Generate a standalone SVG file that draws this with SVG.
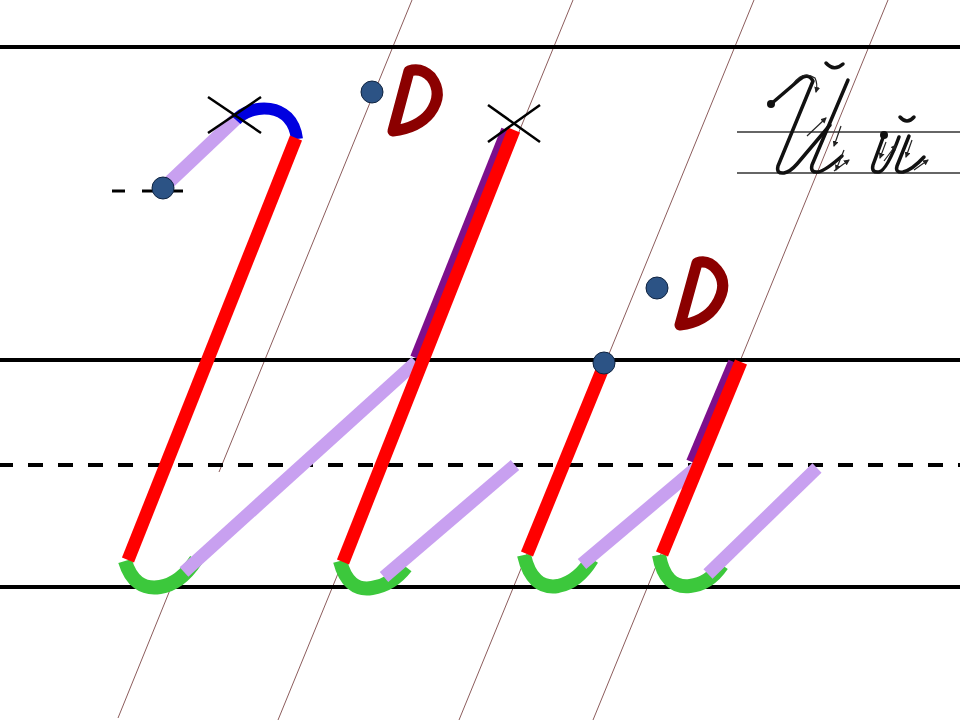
<svg xmlns="http://www.w3.org/2000/svg" width="960" height="720" viewBox="0 0 960 720">
<defs>
<style>
.guide{stroke:#8c5c5c;stroke-width:1;fill:none}
.rule{stroke:#000;stroke-width:4;fill:none}
.dash{stroke:#000;stroke-width:4;stroke-dasharray:15 15;stroke-dashoffset:2;fill:none}
.red{stroke:#ff0000;stroke-width:13;fill:none}
.purple{stroke:#7d0f8c;stroke-width:12;fill:none}
.lav{stroke:#c8a0f0;stroke-width:13;fill:none}
.green{stroke:#3cc83c;stroke-width:14;fill:none}
.blue{stroke:#0000e0;stroke-width:12;fill:none}
.dot{fill:#2c5385;stroke:#0f2340;stroke-width:1}
.dee{stroke:#8b0000;stroke-width:11;fill:none;stroke-linejoin:round}
.cross{stroke:#000;stroke-width:2.5}
.hw{stroke:#111;stroke-width:3.5;fill:none;stroke-linecap:round;stroke-linejoin:round}
.thin{stroke:#333;stroke-width:1.3;fill:none}
.arr{stroke:#222;stroke-width:1.2;fill:none;marker-end:url(#ah)}
</style>
<marker id="ah" markerWidth="6" markerHeight="6" refX="5" refY="3" orient="auto" markerUnits="userSpaceOnUse">
<path d="M0,0 L6,3 L0,6 Z" fill="#222"/>
</marker>
</defs>
<rect width="960" height="720" fill="#fff"/>
<g id="guides">
<line class="guide" x1="412" y1="0" x2="219" y2="472"/>
<line class="guide" x1="172" y1="585" x2="118" y2="718"/>
<line class="guide" x1="573" y1="0" x2="278" y2="720"/>
<line class="guide" x1="754" y1="0" x2="459" y2="720"/>
<line class="guide" x1="888" y1="0" x2="593" y2="720"/>
</g>
<g id="rules">
<line class="rule" x1="0" y1="47" x2="960" y2="47"/>
<line class="rule" x1="0" y1="360" x2="960" y2="360"/>
<line class="dash" x1="0" y1="465" x2="960" y2="465"/>
<line class="rule" x1="0" y1="587" x2="960" y2="587"/>
</g>
<g id="letter1">
<line x1="112" y1="191" x2="125" y2="191" stroke="#000" stroke-width="3"/>
<line x1="142" y1="191" x2="183" y2="191" stroke="#000" stroke-width="3"/>
<line class="lav" x1="163" y1="188" x2="237" y2="118"/>
<path class="blue" d="M236,120 C250,104 292,100 297,139"/>
<path class="green" d="M125,561 Q134,591 160,587 Q180,584 196,560"/>
<line class="lav" x1="184" y1="572" x2="416" y2="362"/>
<line class="red" x1="296" y1="138" x2="128" y2="560"/>
<circle class="dot" cx="163" cy="188" r="11"/>
<line class="cross" x1="208" y1="97" x2="261" y2="133"/>
<line class="cross" x1="208" y1="133" x2="261" y2="97"/>
</g>
<g id="letter2">
<circle class="dot" cx="372" cy="92" r="11"/>
<path class="dee" d="M409,71 L393,131 Q418,128 430,113 Q444,94 431,77 Q421,67 409,71 Z"/>
<path class="green" d="M340,561 Q348,592 372,588 Q392,585 406,567"/>
<line class="lav" x1="384" y1="577" x2="515" y2="465"/>
<line class="purple" x1="507" y1="130" x2="416" y2="358"/>
<line class="red" x1="514" y1="130" x2="343" y2="562"/>
<line class="cross" x1="488" y1="105" x2="540" y2="142"/>
<line class="cross" x1="488" y1="142" x2="540" y2="105"/>
</g>
<g id="letter3">
<path class="green" d="M524,555 Q532,590 558,586 Q578,582 592,559"/>
<line class="lav" x1="582" y1="564" x2="697" y2="467"/>
<line class="red" x1="603" y1="368" x2="527" y2="554"/>
<circle class="dot" cx="604" cy="363" r="11"/>
<circle class="dot" cx="657" cy="288" r="11"/>
<path class="dee" d="M697,263 L680,325 Q705,322 716,305 Q729,285 717,270 Q708,259 697,263 Z"/>
</g>
<g id="letter4">
<path class="green" d="M659,555 Q665,589 690,586 Q709,584 722,565"/>
<line class="lav" x1="708" y1="574" x2="817" y2="468"/>
<line class="purple" x1="734" y1="362" x2="692" y2="462"/>
<line class="red" x1="741" y1="362" x2="662" y2="554"/>
</g>
<g id="sample">
<line class="thin" x1="737" y1="132" x2="960" y2="132"/>
<line class="thin" x1="737" y1="173" x2="960" y2="173"/>
<circle cx="771" cy="104" r="4" fill="#111"/>
<path class="hw" d="M771,104 L799,80 Q808,72 813,81 L778,166 Q776,174 784,173 Q790,172 797,164 L830,125"/>
<path class="hw" d="M848,80 L812,165 Q810,173 818,172 Q825,171 842,156"/>
<path class="hw" stroke-width="2.5" d="M826,63 Q834,72 843,64"/>
<circle cx="884" cy="135" r="4" fill="#111"/>
<path class="hw" d="M884,135 L873,165 Q871,173 879,172 Q887,170 899,137 M909,136 L897,166 Q895,173 903,172 Q912,170 924,157"/>
<path class="hw" stroke-width="2.5" d="M900,117 Q907,125 914,117"/>
<path class="arr" d="M793,84 Q803,70 815,78 Q818,84 816,92"/>
<path class="arr" d="M807,136 L826,118"/>
<path class="arr" d="M841,126 L834,146"/>
<path class="arr" d="M844,150 L836,170"/>
<path class="arr" d="M834,171 L849,160"/>
<path class="arr" d="M886,142 L880,158"/>
<path class="arr" d="M884,161 L896,145"/>
<path class="arr" d="M912,140 L906,157"/>
<path class="arr" d="M914,170 L928,160"/>
</g>
</svg>
